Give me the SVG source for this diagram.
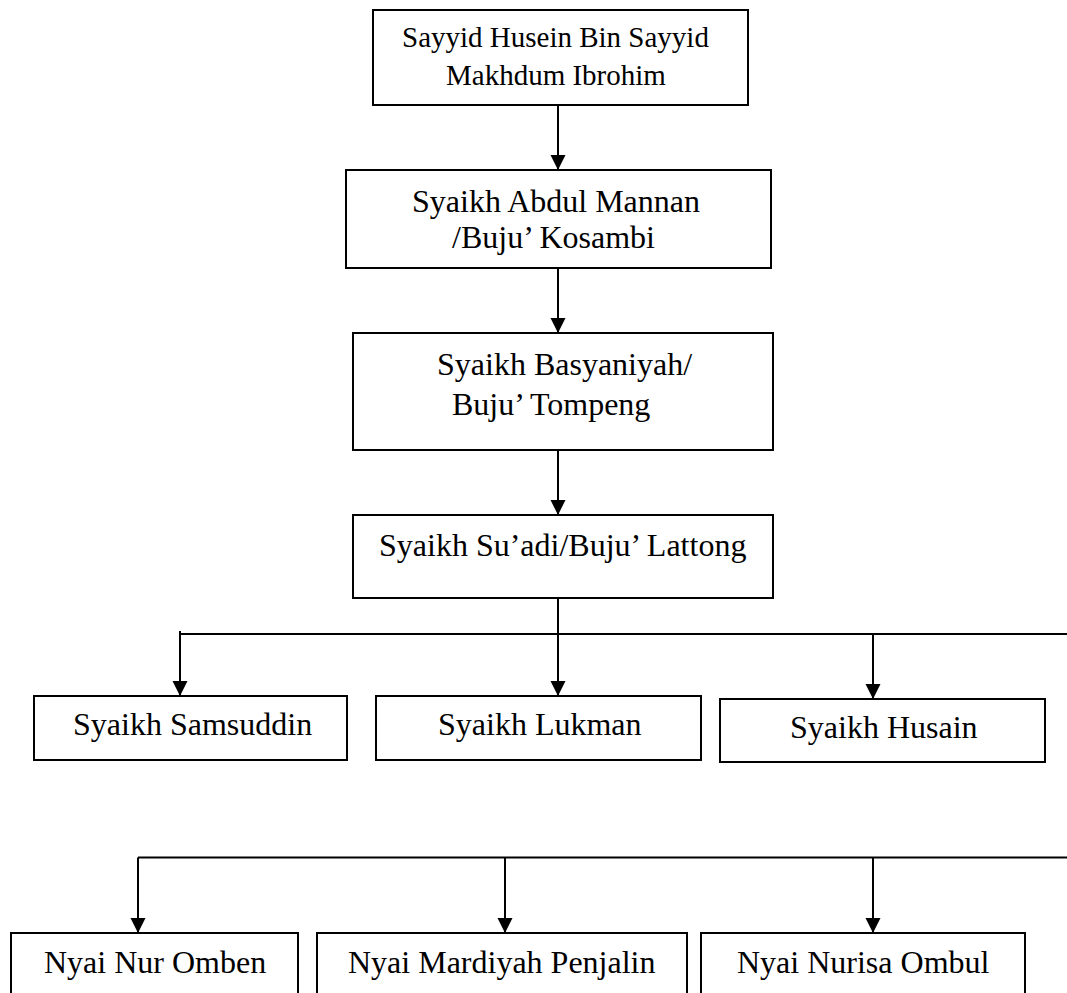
<svg xmlns="http://www.w3.org/2000/svg" width="1067" height="993" viewBox="0 0 1067 993">
<style>
.box{fill:#fff;stroke:#000;stroke-width:2}
.t{font-family:"Liberation Serif","Times New Roman",serif;font-size:32px;fill:#000}
.t1{font-size:29px}
.ln{fill:none;stroke:#000;stroke-width:2}
</style>
<defs>
<marker id="arr" markerWidth="15" markerHeight="16" refX="15" refY="7.5" orient="auto" markerUnits="userSpaceOnUse" viewBox="0 0 15 15">
<path d="M0,0 L15,7.5 L0,15 Z" fill="#000"/>
</marker>
</defs>
<rect width="1067" height="993" fill="#fff"/>
<g id="connectors">
<line class="ln" x1="558" y1="105" x2="558" y2="170" marker-end="url(#arr)"/>
<line class="ln" x1="558" y1="268" x2="558" y2="333" marker-end="url(#arr)"/>
<line class="ln" x1="558" y1="450" x2="558" y2="515" marker-end="url(#arr)"/>
<line class="ln" x1="558" y1="598" x2="558" y2="634"/>
<line class="ln" x1="180" y1="634" x2="1067" y2="634"/>
<line class="ln" x1="180" y1="631" x2="180" y2="696" marker-end="url(#arr)"/>
<line class="ln" x1="558" y1="634" x2="558" y2="696" marker-end="url(#arr)"/>
<line class="ln" x1="873" y1="634" x2="873" y2="699" marker-end="url(#arr)"/>
<line class="ln" x1="138" y1="857.5" x2="1067" y2="857.5"/>
<line class="ln" x1="138" y1="857.5" x2="138" y2="933" marker-end="url(#arr)"/>
<line class="ln" x1="505" y1="857.5" x2="505" y2="933" marker-end="url(#arr)"/>
<line class="ln" x1="873" y1="857.5" x2="873" y2="933" marker-end="url(#arr)"/>
</g>
<g id="n1">
<rect class="box" x="373" y="10" width="375" height="95"/>
<text class="t t1" x="402" y="47">Sayyid Husein Bin Sayyid</text>
<text class="t t1" x="446" y="85">Makhdum Ibrohim</text>
</g>
<g id="n2">
<rect class="box" x="346" y="170" width="425" height="98"/>
<text class="t" x="412" y="212">Syaikh Abdul Mannan</text>
<text class="t" x="452" y="248">/Buju’ Kosambi</text>
</g>
<g id="n3">
<rect class="box" x="353" y="333" width="420" height="117"/>
<text class="t" x="437" y="375">Syaikh Basyaniyah/</text>
<text class="t" x="452" y="415">Buju’ Tompeng</text>
</g>
<g id="n4">
<rect class="box" x="353" y="515" width="420" height="83"/>
<text class="t" x="379" y="556">Syaikh Su’adi/Buju’ Lattong</text>
</g>
<g id="n5">
<rect class="box" x="34" y="696" width="313" height="64"/>
<text class="t" x="73" y="735">Syaikh Samsuddin</text>
</g>
<g id="n6">
<rect class="box" x="376" y="696" width="325" height="64"/>
<text class="t" x="438" y="735">Syaikh Lukman</text>
</g>
<g id="n7">
<rect class="box" x="720" y="699" width="325" height="63"/>
<text class="t" x="790" y="738">Syaikh Husain</text>
</g>
<g id="n8">
<rect class="box" x="11" y="933" width="287" height="80"/>
<text class="t" x="44" y="973">Nyai Nur Omben</text>
</g>
<g id="n9">
<rect class="box" x="317" y="933" width="370" height="80"/>
<text class="t" x="348" y="973">Nyai Mardiyah Penjalin</text>
</g>
<g id="n10">
<rect class="box" x="701" y="933" width="324" height="80"/>
<text class="t" x="737" y="973">Nyai Nurisa Ombul</text>
</g>
</svg>
